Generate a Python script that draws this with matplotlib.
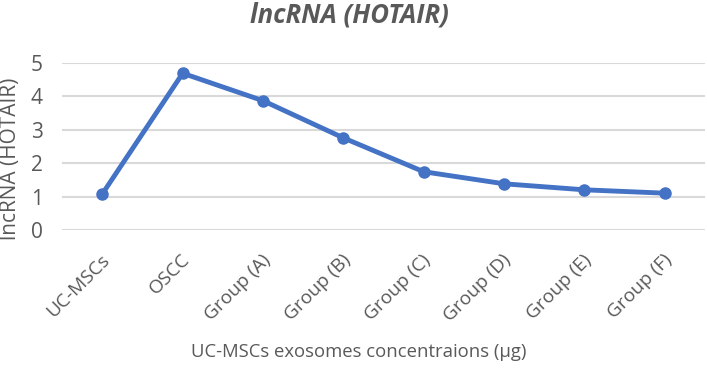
import numpy as np
import matplotlib.pyplot as plt
from matplotlib.transforms import ScaledTranslation

# Data
groups = ['UC-MSCs', 'OSCC', 'Group (A)', 'Group (B)', 'Group (C)',
          'Group (D)', 'Group (E)', 'Group (F)']
hotair = [1.08, 4.68, 3.86, 2.75, 1.74, 1.38, 1.20, 1.10]
y_ticks = [0, 1, 2, 3, 4, 5]

plt.rcParams['font.family'] = ['Open Sans', 'DejaVu Sans']
grey = '#595959'

fig, ax = plt.subplots(figsize=(7.07, 3.68), dpi=100)
fig.subplots_adjust(left=0.088, right=0.997, top=0.83, bottom=0.375)

x = np.arange(len(groups))
ax.plot(x, hotair, color='#4472C4', linewidth=3.5, marker='o', markersize=8,
        solid_joinstyle='round', zorder=3)

ax.set_xlim(-0.5, len(groups) - 0.5)
ax.set_ylim(0, 5)
ax.set_yticks(y_ticks)
ax.set_xticks(x)
ax.set_xticklabels(groups, rotation=45, ha='right', rotation_mode='anchor')
ax.tick_params(axis='x', length=0, labelsize=13.8, colors=grey, pad=15)
ax.tick_params(axis='y', length=0, labelsize=15, colors=grey, pad=14)
# nudge rotated labels, like the original
shift = ScaledTranslation(-2 / 100, 0, fig.dpi_scale_trans)
for lbl in ax.get_xticklabels():
    lbl.set_transform(lbl.get_transform() + shift)
ax.grid(axis='y', color='#D9D9D9', linewidth=1.5, zorder=0)
for s in ax.spines.values():
    s.set_visible(False)

fig.text(11 / 707, 1 - 159 / 368, 'lncRNA (HOTAIR)', rotation=90,
         fontsize=15, color=grey, ha='center', va='center')
fig.text(359 / 707, 1 - 352 / 368, 'UC-MSCs exosomes concentraions (\u03bcg)',
         fontsize=13.3, color=grey, ha='center', va='center')
fig.text(349 / 707, 1 - 15 / 368, 'lncRNA (HOTAIR)', fontsize=18.5,
         fontstyle='italic', fontweight='bold', color=grey,
         ha='center', va='center')

fig.savefig('out.png', dpi=100)
